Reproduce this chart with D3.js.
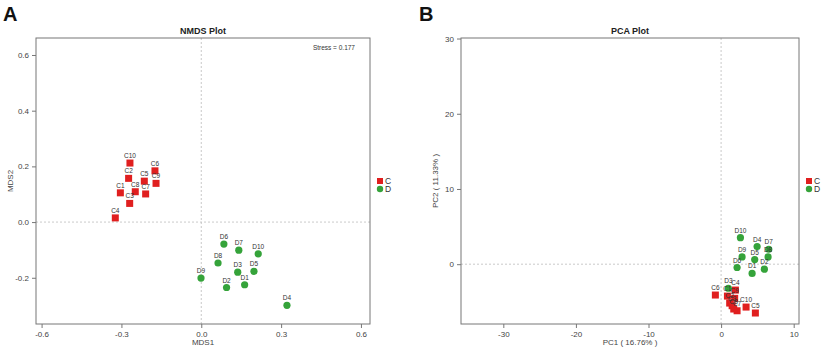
<!DOCTYPE html>
<html>
<head>
<meta charset="utf-8">
<script src="https://cdn.jsdelivr.net/npm/d3@7"></script>
<style>
  body { margin: 0; background: #fff; }
  svg { font-family: "Liberation Sans", Arial, sans-serif; }
</style>
</head>
<body>
<div id="chart"></div>
<script>
// sample names
var cNames = ['C1', 'C2', 'C3', 'C4', 'C5', 'C6', 'C7', 'C8', 'C9', 'C10'];
var dNames = ['D1', 'D2', 'D3', 'D4', 'D5', 'D6', 'D7', 'D8', 'D9', 'D10'];

// NMDS coordinates
var nmdsCx = [-0.304, -0.273, -0.269, -0.323, -0.214, -0.174, -0.209, -0.248, -0.170, -0.268];
var nmdsCy = [0.105, 0.157, 0.067, 0.015, 0.147, 0.184, 0.101, 0.109, 0.139, 0.212];
var nmdsDx = [0.163, 0.095, 0.137, 0.322, 0.198, 0.085, 0.141, 0.063, -0.001, 0.214];
var nmdsDy = [-0.225, -0.235, -0.180, -0.299, -0.177, -0.079, -0.101, -0.147, -0.201, -0.114];

// PCA coordinates
var pcaCx = [0.87, 1.18, 1.52, 1.97, 4.72, -0.79, 2.20, 1.74, 1.87, 3.44];
var pcaCy = [-4.24, -5.17, -5.52, -3.44, -6.49, -4.10, -6.19, -5.96, -4.54, -5.70];
var pcaDx = [4.27, 5.96, 1.00, 4.96, 4.63, 2.20, 6.56, 6.47, 2.89, 2.66];
var pcaDy = [-1.23, -0.66, -3.20, 2.34, 0.62, -0.44, 1.99, 0.97, 0.97, 3.53];

var nmdsXTicks = [-0.6, -0.3, 0.0, 0.3, 0.6];
var nmdsYTicks = [-0.2, 0.0, 0.2, 0.4, 0.6];
var pcaXTicks = [-30, -20, -10, 0, 10];
var pcaYTicks = [0, 10, 20, 30];

var groups = ['C', 'D'];
var red = '#e01f1f', green = '#35a33a';

var svg = d3.select('#chart').append('svg')
    .attr('width', 825)
    .attr('height', 351);

function zip(names, xs, ys, g) {
    return names.map(function (n, i) { return { name: n, x: xs[i], y: ys[i], group: g }; });
}

function panel(opt) {
    var x = d3.scaleLinear().domain(opt.xDomain).range([opt.left, opt.right]);
    var y = d3.scaleLinear().domain(opt.yDomain).range([opt.bottom, opt.top]);
    var g = svg.append('g');

    // zero reference lines
    g.append('line')
        .attr('x1', x(0)).attr('x2', x(0))
        .attr('y1', opt.top).attr('y2', opt.bottom)
        .attr('stroke', '#bbb').attr('stroke-width', 0.8)
        .attr('stroke-dasharray', '2,2');
    g.append('line')
        .attr('x1', opt.left).attr('x2', opt.right)
        .attr('y1', y(0)).attr('y2', y(0))
        .attr('stroke', '#bbb').attr('stroke-width', 0.8)
        .attr('stroke-dasharray', '2,2');

    var xAxis = g.append('g')
        .attr('transform', 'translate(0,' + opt.bottom + ')')
        .call(d3.axisBottom(x).tickValues(opt.xTicks).tickSize(4).tickPadding(3).tickFormat(opt.fmt));
    var yAxis = g.append('g')
        .attr('transform', 'translate(' + opt.left + ',0)')
        .call(d3.axisLeft(y).tickValues(opt.yTicks).tickSize(4).tickPadding(3).tickFormat(opt.fmt));
    [xAxis, yAxis].forEach(function (a) {
        a.select('.domain').remove();
        a.selectAll('line').attr('stroke', '#777');
        a.selectAll('text').attr('fill', '#444').style('font-size', '8px');
    });

    // frame
    g.append('rect')
        .attr('x', opt.left).attr('y', opt.top)
        .attr('width', opt.right - opt.left).attr('height', opt.bottom - opt.top)
        .attr('fill', 'none').attr('stroke', '#777').attr('stroke-width', 1);

    // titles
    g.append('text')
        .attr('x', (opt.left + opt.right) / 2).attr('y', opt.top - 4)
        .attr('text-anchor', 'middle')
        .style('font-size', '9px').style('font-weight', 'bold').attr('fill', '#222')
        .text(opt.title);
    g.append('text')
        .attr('x', (opt.left + opt.right) / 2).attr('y', opt.bottom + 21)
        .attr('text-anchor', 'middle')
        .style('font-size', '8px').attr('fill', '#444')
        .text(opt.xLabel);
    g.append('text')
        .attr('transform', 'translate(' + (opt.left - 23) + ',' + ((opt.top + opt.bottom) / 2) + ') rotate(-90)')
        .attr('text-anchor', 'middle')
        .style('font-size', '8px').attr('fill', '#444')
        .text(opt.yLabel);
    g.append('text')
        .attr('x', opt.letterX).attr('y', 21)
        .style('font-size', '20px').style('font-weight', 'bold').attr('fill', '#111')
        .text(opt.letter);

    // points
    var pts = opt.data;
    g.selectAll('rect.pt')
        .data(pts.filter(function (d) { return d.group === 'C'; }))
        .enter().append('rect')
        .attr('class', 'pt')
        .attr('x', function (d) { return x(d.x) - 3.5; })
        .attr('y', function (d) { return y(d.y) - 3.5; })
        .attr('width', 7).attr('height', 7)
        .attr('fill', red);
    g.selectAll('circle.pt')
        .data(pts.filter(function (d) { return d.group === 'D'; }))
        .enter().append('circle')
        .attr('class', 'pt')
        .attr('cx', function (d) { return x(d.x); })
        .attr('cy', function (d) { return y(d.y); })
        .attr('r', 3.6)
        .attr('fill', green);
    g.selectAll('text.lab')
        .data(pts)
        .enter().append('text')
        .attr('class', 'lab')
        .attr('x', function (d) { return x(d.x); })
        .attr('y', function (d) { return y(d.y) - 5; })
        .attr('text-anchor', 'middle')
        .style('font-size', '6.5px').attr('fill', '#333')
        .text(function (d) { return d.name; });

    // legend
    var lg = g.append('g').attr('transform', 'translate(' + (opt.right + 10) + ',' + opt.legendY + ')');
    groups.forEach(function (k, i) {
        if (k === 'C') {
            lg.append('rect').attr('x', -3).attr('y', i * 8 - 3).attr('width', 6).attr('height', 6).attr('fill', red);
        } else {
            lg.append('circle').attr('cx', 0).attr('cy', i * 8).attr('r', 3.2).attr('fill', green);
        }
        lg.append('text').attr('x', 5).attr('y', i * 8 + 3)
            .style('font-size', '8.5px').attr('fill', '#333').text(k);
    });

    if (opt.stress) {
        g.append('text')
            .attr('x', opt.right - 15).attr('y', opt.top + 12)
            .attr('text-anchor', 'end')
            .style('font-size', '6.5px').attr('fill', '#333')
            .text(opt.stress);
    }
}

var fmt1 = function (v) { return v.toFixed(1).replace('-0.0', '0.0'); };
var fmt0 = function (v) { return String(v); };

panel({
    left: 36, right: 370, top: 38, bottom: 324,
    xDomain: [-0.621, 0.634], yDomain: [-0.366, 0.661],
    xTicks: nmdsXTicks, yTicks: nmdsYTicks, fmt: fmt1,
    title: 'NMDS Plot', xLabel: 'MDS1', yLabel: 'MDS2',
    letter: 'A', letterX: 3, legendY: 181,
    stress: 'Stress = 0.177',
    data: zip(cNames, nmdsCx, nmdsCy, 'C').concat(zip(dNames, nmdsDx, nmdsDy, 'D'))
});

panel({
    left: 461, right: 799, top: 38, bottom: 324,
    xDomain: [-35.83, 10.73], yDomain: [-7.95, 30.07],
    xTicks: pcaXTicks, yTicks: pcaYTicks, fmt: fmt0,
    title: 'PCA Plot', xLabel: 'PC1 ( 16.76% )', yLabel: 'PC2 ( 11.33% )',
    letter: 'B', letterX: 419, legendY: 181,
    data: zip(cNames, pcaCx, pcaCy, 'C').concat(zip(dNames, pcaDx, pcaDy, 'D'))
});
</script>
</body>
</html>
